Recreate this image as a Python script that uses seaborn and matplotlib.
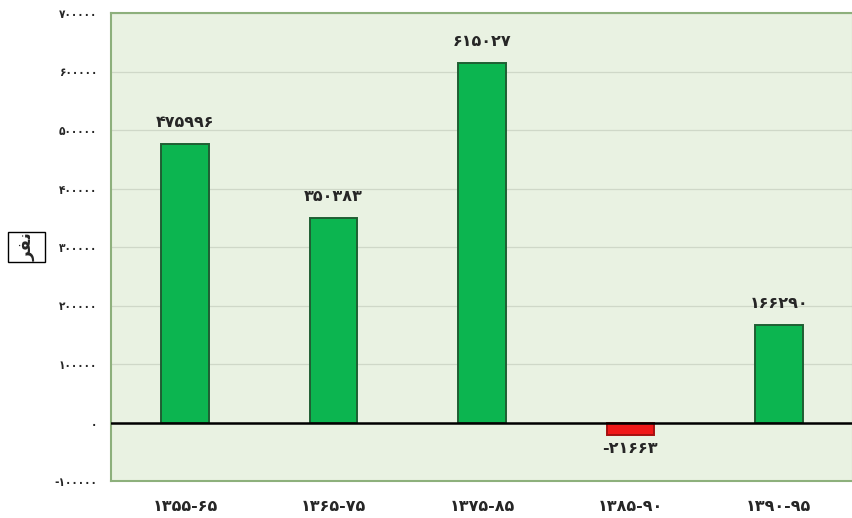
import matplotlib
matplotlib.use("Agg")
import matplotlib.pyplot as plt
import seaborn as sns
import pandas as pd
from matplotlib.patches import Rectangle

periods = ["۱۳۵۵-۶۵", "۱۳۶۵-۷۵", "۱۳۷۵-۸۵", "۱۳۸۵-۹۰", "۱۳۹۰-۹۵"]
values = [475996, 350383, 615027, -21663, 166290]
value_labels = ["۴۷۵۹۹۶", "۳۵۰۳۸۳", "۶۱۵۰۲۷", "-۲۱۶۶۳", "۱۶۶۲۹۰"]
y_ticks = [-100000, 0, 100000, 200000, 300000, 400000, 500000, 600000, 700000]
y_tick_labels = ["-۱۰۰۰۰۰", "۰", "۱۰۰۰۰۰", "۲۰۰۰۰۰", "۳۰۰۰۰۰",
                 "۴۰۰۰۰۰", "۵۰۰۰۰۰", "۶۰۰۰۰۰", "۷۰۰۰۰۰"]
unit_label = "ﺮﻔﻧ"  # "نفر" in shaped presentation forms

POS_COLOR, NEG_COLOR = "#0CB550", "#F01818"

sns.set_theme(style="white")
plt.rcParams["font.family"] = ["DejaVu Sans"]

df = pd.DataFrame({"period": periods, "value": values})
df["sign"] = ["pos" if v >= 0 else "neg" for v in values]

fig = plt.figure(figsize=(8.53, 5.18), dpi=100)
ax = fig.add_axes([111 / 853, 37 / 518, 742 / 853, 468 / 518])
ax.set_facecolor("#E9F2E2")

sns.barplot(data=df, x="period", y="value", hue="sign",
            palette={"pos": POS_COLOR, "neg": NEG_COLOR},
            width=0.32, dodge=False, legend=False, ax=ax,
            edgecolor="#1F5E33", linewidth=1.4, saturation=1)

# darker rim matched to each bar's fill
for patch in ax.patches:
    r, g, b, _ = patch.get_facecolor()
    if r > g:
        patch.set_edgecolor("#A51010")
    else:
        patch.set_edgecolor("#1F5E33")

ax.set_ylim(-100000, 700000)
ax.set_xlim(-0.5, 4.5)
ax.set_yticks(y_ticks)
ax.set_yticklabels(y_tick_labels, fontsize=8.5, fontweight="bold",
                   fontstretch="condensed")
ax.yaxis.grid(True, color="#CFD8C8", linewidth=0.9)
ax.set_axisbelow(True)
ax.axhline(0, color="black", linewidth=1.8, zorder=5)
ax.tick_params(axis="y", length=0, pad=10)
ax.tick_params(axis="x", length=0, pad=13)
for lbl in ax.get_xticklabels():
    lbl.set_fontsize(11.5)
    lbl.set_fontweight("bold")
ax.set_xlabel("")
ax.set_ylabel("")

for side in ["left", "top", "bottom", "right"]:
    ax.spines[side].set_color("#8DB07C")
    ax.spines[side].set_linewidth(1.5)

# value labels above / below each bar
for i, (v, txt) in enumerate(zip(values, value_labels)):
    if v >= 0:
        ax.annotate(txt, (i, v), xytext=(0, 10), textcoords="offset points",
                    ha="center", va="bottom", fontsize=11.5, fontweight="bold")
    else:
        ax.annotate(txt, (i, v), xytext=(0, -4), textcoords="offset points",
                    ha="center", va="top", fontsize=11.5, fontweight="bold")

# unit label in a box on the left
fig.patches.append(Rectangle((8 / 853, 1 - 262 / 518), 37 / 853, 30 / 518,
                             transform=fig.transFigure, facecolor="white",
                             edgecolor="black", linewidth=1))
fig.text(27 / 853, 1 - 247 / 518, unit_label, rotation=90, ha="center",
         va="center", fontsize=12, fontweight="bold")

fig.savefig("out.png", dpi=100)
